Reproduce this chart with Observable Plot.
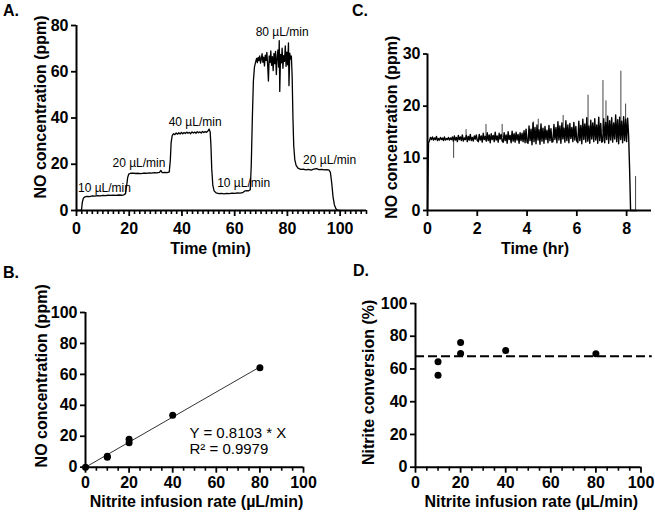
<!DOCTYPE html>
<html><head><meta charset="utf-8">
<script src="https://cdn.jsdelivr.net/npm/d3@7"></script>
<script src="https://cdn.jsdelivr.net/npm/@observablehq/plot@0.6"></script>
<style>
html,body{margin:0;padding:0;background:#fff;}
#fig{position:relative;width:655px;height:516px;overflow:hidden;font-family:'Liberation Sans',Arial,Helvetica,sans-serif;color:#000;}
.tag{position:absolute;font-weight:bold;font-size:16px;line-height:16px;}
svg{position:absolute;}
</style></head><body>
<div id="fig">
  <div class="tag" style="left:3px;top:3px">A.</div>
  <div class="tag" style="left:352px;top:3px">C.</div>
  <div class="tag" style="left:3px;top:265px">B.</div>
  <div class="tag" style="left:353px;top:263px">D.</div>
</div>
<script>
// ---------- Panel A: NO vs time (min) ----------
const aTime = [
  0,1.5,1.9,2.2,2.6,3.2,4,5,6,7,8,9,10,11,12,13,14,15,16,17,18,18.6,
  19.0,19.4,19.8,20.5,21.5,22.5,23.5,24.5,25.5,26.5,27.5,28.5,29.5,30.5,31.5,32,32.5,33.5,34.5,35.2,
  35.6,35.9,36.3,36.8,37.3,37.8,38.3,38.8,39.3,39.8,40.3,40.8,41.3,41.8,42.3,42.8,43.3,43.8,44.3,44.8,45.3,45.8,46.3,46.8,47.3,47.8,48.3,48.8,49.3,49.8,50.3,50.7,
  51.0,51.3,51.7,52.2,53,54,55,56,57,58,59,60,61,62,63,63.8,64.5,65.3,65.9,
  66.3,66.7,67.1,67.5,
  68.0,68.3,68.6,68.9,69.2,69.5,69.8,70.1,70.4,70.7,
  71.0,71.3,71.6,71.9,72.2,72.5,72.8,73.1,73.4,73.7,
  74.0,74.3,74.6,74.9,75.2,75.5,75.8,76.1,76.4,76.7,
  76.9,77.1,77.4,77.7,78.0,78.3,78.6,78.9,79.2,79.5,
  79.8,80.1,80.4,80.6,80.9,81.2,81.5,
  81.8,82.1,82.4,82.8,83.3,84,85,86,87,88,89,90,91,92,93,94,95,95.8,96.3,96.8,97.3,97.8,98.4,99,100
];
const aNO = [
  0,0,0.3,3.5,5.3,5.9,6.1,6.0,6.3,6.2,6.4,6.3,6.5,6.4,6.6,6.5,6.6,6.5,6.7,6.6,6.8,7.3,
  10.5,14.2,15.7,16.1,16.2,16.0,16.1,15.9,16.2,16.1,16.3,16.2,16.4,16.3,16.5,17.3,16.4,16.5,16.4,16.7,
  22,29.5,32.4,33.2,32.8,33.5,33.0,33.6,33.1,33.8,33.2,33.7,33.3,33.9,33.4,33.8,33.2,34.0,33.5,33.9,33.4,34.1,33.6,34.0,33.5,34.2,33.7,34.1,33.8,34.3,35.2,34.0,
  28,18,11,8.5,7.6,7.3,7.4,7.2,7.4,7.3,7.5,7.4,7.6,7.5,7.7,8.4,8.6,8.5,9.0,
  20,40,56,62,
  64.5,65.8,63.9,66.2,64.8,66.9,63.7,65.5,67.8,64.1,
  66.3,62.5,67.2,64.9,68.4,63.2,56.0,66.8,64.0,69.0,
  62.8,66.5,60.5,67.9,63.5,68.8,58.8,66.0,69.5,62.0,
  73.5,51.5,67.5,63.8,70.2,61.5,67.0,64.5,71.2,62.3,
  68.5,63.0,72.5,54.0,68.0,65.5,66.8,
  58,40,28,22,19.5,18.3,17.8,17.9,17.6,17.8,17.5,17.9,18.1,17.7,17.8,17.6,17.7,17.5,16.5,12,6,2.5,0.8,0.2,0
];
const aLabelText = ["10 µL/min", "20 µL/min", "40 µL/min", "10 µL/min", "80 µL/min", "20 µL/min"];
const aLabelX = [10.6, 23.7, 45, 63.4, 78, 96];
const aLabelY = [9.5, 20.3, 38, 11.7, 77, 21.6];
const aXTicks = [0, 20, 40, 60, 80, 100];
const aYTicks = [0, 20, 40, 60, 80];

// ---------- Panel C: NO vs time (hr) ----------
const cStep = 0.04; // sampling interval (hr)
const cNO = [
  0, 13.0,
  13.4,14.0,13.6,14.1,13.5,13.9,13.6,14.2,13.4,13.8,13.5,14.0,13.6,13.9,13.4,14.1,13.5,13.8,13.6,14.0,13.5,13.9,13.6,14.1,
  13.3,14.3,13.5,14.0,13.2,14.4,13.6,14.1,13.4,14.5,13.3,13.9,13.6,14.4,13.2,14.2,13.5,14.6,13.4,14.0,13.3,14.3,13.7,14.5,13.4,
  13.2,14.6,13.5,14.3,13.1,14.8,13.6,14.2,13.3,14.9,13.4,14.5,13.0,14.7,13.6,14.4,13.2,15.0,13.5,14.3,13.1,14.8,13.7,14.6,13.3,
  13.1,14.9,13.4,14.5,12.9,15.1,13.6,14.4,13.0,15.2,13.3,14.7,13.1,15.0,13.5,14.6,12.9,14.9,13.4,14.8,13.2,15.3,13.0,15.6,13.1,
  12.9,16.2,13.4,15.6,12.6,16.8,13.2,15.9,12.8,16.4,13.5,15.5,12.7,16.6,13.3,15.8,12.9,16.1,13.6,15.4,13.0,16.3,13.4,15.7,13.1,
  13.2,16.5,13.6,15.9,13.0,17.0,13.5,16.2,12.9,16.8,13.7,15.8,13.1,17.2,13.4,16.4,13.0,16.7,13.8,15.9,13.2,16.9,13.5,16.1,13.3,
  13.0,17.1,13.4,16.3,12.8,17.5,13.6,16.6,13.1,17.8,13.3,16.2,12.9,17.3,13.7,16.8,13.2,17.6,13.5,16.4,12.9,17.9,13.4,16.7,13.1,
  13.3,17.6,13.0,16.9,13.6,18.1,12.9,17.2,13.5,17.8,13.1,16.8,13.7,18.3,13.2,17.4,12.8,17.9,13.6,17.1,13.0,18.0,13.4,17.5,13.2,17.7,14.5,
  8.0,0,0,0,0,0,0,0
];
const cSpikeT    = [1.05, 1.55, 2.35, 3.0, 4.25, 4.45, 5.45, 6.45, 7.05, 7.17, 7.77, 7.96, 8.36];
const cSpikeBase = [13.6, 14.0, 14.0, 14.0, 14.5, 14.5, 14.5, 15.0, 15.0, 15.0, 15.0, 15.0, 0];
const cSpikeTop  = [10.0, 15.5, 16.5, 16.5, 17.0, 17.5, 18.2, 22.1, 24.9, 21.0, 26.7, 20.4, 6.5];
const cXTicks = [0, 2, 4, 6, 8];
const cYTicks = [0, 10, 20, 30];

// ---------- Panel B: NO vs nitrite infusion rate ----------
const bRate = [0, 10, 10, 20, 20, 40, 80];
const bNO = [0, 7.1, 6.5, 15.8, 18.0, 33.6, 64.3];
const bSlope = 0.8103;
const bFitX = [0, 80];
const bEqText = "Y = 0.8103 * X\nR² = 0.9979";
const bEqX = 47.7, bEqY = 16.9;

// ---------- Panel D: nitrite conversion ----------
const dRate = [10, 10, 20, 20, 40, 80];
const dConv = [64.4, 56.2, 76.2, 69.4, 71.3, 69.3];
const dMean = 67.8;
const rateTicks = [0, 20, 40, 60, 80, 100];
const rateMinor = [5, 10, 15, 25, 30, 35, 45, 50, 55, 65, 70, 75, 85, 90, 95];
const pctTicks = [0, 20, 40, 60, 80, 100];

// ---------- helpers ----------
const FONT = "'Liberation Sans', Arial, Helvetica, sans-serif";
const fig = document.getElementById("fig");

function panel(o) {
  const svg = Plot.plot({
    width: o.width, height: o.height,
    marginLeft: o.ml, marginRight: o.mr, marginTop: o.mt, marginBottom: o.mb,
    style: {fontFamily: FONT, fontSize: "16px", fontWeight: "bold", color: "#000", background: "transparent", overflow: "visible"},
    x: {domain: o.xDomain},
    y: {domain: o.yDomain},
    marks: [
      o.xMinor ? Plot.axisX(o.xMinor, {tickSize: 4, strokeWidth: 1.6, tickFormat: () => "", label: null}) : null,
      Plot.axisX(o.xTicks, {tickSize: o.xSize ?? 6, strokeWidth: 1.8, tickPadding: o.xPad, label: null}),
      Plot.axisY(o.yTicks, {tickSize: o.ySize ?? 5, strokeWidth: 1.8, tickPadding: 3, label: null}),
      Plot.ruleY([o.yDomain[0]], {strokeWidth: 2}),
      Plot.ruleX([o.xDomain[0]], {strokeWidth: 2}),
      ...o.marks,
      Plot.text([o.xTitle], {text: d => d, frameAnchor: "bottom", textAnchor: "middle", lineAnchor: "top", dx: o.xtDx, dy: o.xtDy}),
      Plot.text([o.yTitle], {text: d => d, frameAnchor: "left", textAnchor: "middle", lineAnchor: "top", rotate: -90, dx: o.ytDx, dy: o.ytDy})
    ]
  });
  svg.style.left = o.left + "px";
  svg.style.top = o.top + "px";
  fig.appendChild(svg);
}

// Panel A
const aData = aTime.map((t, i) => ({t, v: aNO[i]}));
const aLabels = aLabelText.map((s, i) => ({s, x: aLabelX[i], y: aLabelY[i]}));
const aMinor = d3.range(0, 111, 2).filter(v => v % 20 !== 0 || v > 100);
panel({
  left: 0, top: 0, width: 370, height: 260, ml: 76, mr: 4, mt: 25, mb: 50,
  xDomain: [0, 110], yDomain: [0, 80], xTicks: aXTicks, xMinor: aMinor, yTicks: aYTicks, xPad: 6,
  xTitle: "Time (min)", xtDx: -11, xtDy: 32,
  yTitle: "NO concentration (ppm)", ytDx: -42, ytDy: -11,
  marks: [
    Plot.line(aData, {x: "t", y: "v", stroke: "#000", strokeWidth: 1.3}),
    Plot.text(aLabels, {x: "x", y: "y", text: "s", fontWeight: "normal", fontSize: 12})
  ]
});

// Panel C
const cData = cNO.map((v, i) => ({t: i * cStep, v}));
const cSpikes = cSpikeT.map((t, i) => ({t, y1: cSpikeBase[i], y2: cSpikeTop[i]}));
panel({
  left: 330, top: 0, width: 325, height: 260, ml: 97, mr: 4, mt: 53.5, mb: 50,
  xDomain: [0, 9], yDomain: [0, 30], xTicks: cXTicks, yTicks: cYTicks, xPad: 6, ySize: 4,
  xTitle: "Time (hr)", xtDx: -4.5, xtDy: 32,
  yTitle: "NO concentration (ppm)", ytDx: -42, ytDy: -5,
  marks: [
    Plot.ruleX(cSpikes, {x: "t", y1: "y1", y2: "y2", stroke: "#444", strokeWidth: 1}),
    Plot.line(cData, {x: "t", y: "v", stroke: "#000", strokeWidth: 1.4})
  ]
});

// Panel B
const bData = bRate.map((x, i) => ({x, y: bNO[i]}));
const bFit = bFitX.map(x => ({x, y: bSlope * x}));
panel({
  left: 0, top: 260, width: 330, height: 256, ml: 85, mr: 27, mt: 52, mb: 49.3,
  xDomain: [0, 100], yDomain: [0, 100], xTicks: rateTicks, xMinor: rateMinor, yTicks: pctTicks, xPad: 3,
  xTitle: "Nitrite infusion rate (µL/min)", xtDx: 2, xtDy: 28.5,
  yTitle: "NO concentration (ppm)", ytDx: -50, ytDy: -14,
  marks: [
    Plot.line(bFit, {x: "x", y: "y", stroke: "#333", strokeWidth: 1}),
    Plot.dot(bData, {x: "x", y: "y", r: 3.5, fill: "#000"}),
    Plot.text([bEqText], {text: d => d, x: () => bEqX, y: () => bEqY, textAnchor: "start", lineAnchor: "middle", lineHeight: 1.05, fontWeight: "normal", fontSize: 15})
  ]
});

// Panel D
const dData = dRate.map((x, i) => ({x, y: dConv[i]}));
panel({
  left: 330, top: 260, width: 325, height: 256, ml: 85, mr: 14.5, mt: 43, mb: 49.3,
  xDomain: [0, 100], yDomain: [0, 100], xTicks: rateTicks, xMinor: rateMinor, yTicks: pctTicks, xPad: 3,
  xTitle: "Nitrite infusion rate (µL/min)", xtDx: 3, xtDy: 28.5,
  yTitle: "Nitrite conversion (%)", ytDx: -53, ytDy: -3,
  marks: [
    Plot.ruleY([dMean], {x1: 0, x2: 105, stroke: "#000", strokeWidth: 2, strokeDasharray: "9,4"}),
    Plot.dot(dData, {x: "x", y: "y", r: 3.5, fill: "#000"})
  ]
});
</script>
</body></html>
